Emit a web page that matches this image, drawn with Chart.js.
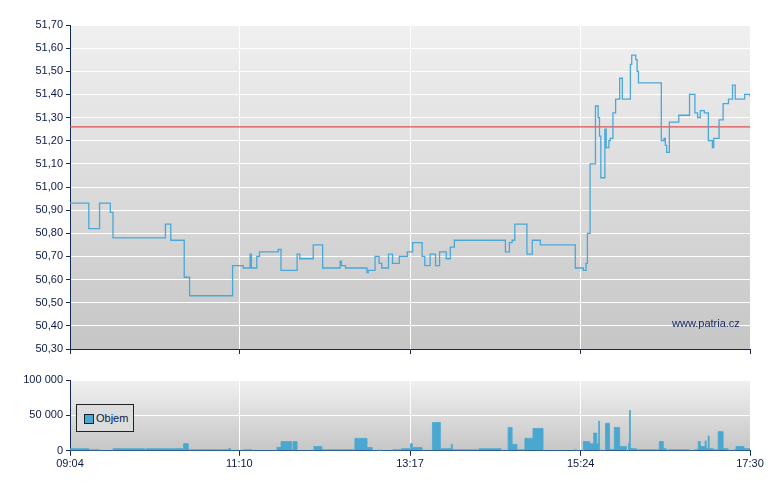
<!DOCTYPE html>
<html>
<head>
<meta charset="utf-8">
<script src="https://cdn.jsdelivr.net/npm/chart.js@4"></script>
<style>
body { margin: 0; background: #fff; font-family: "Liberation Sans", Arial, sans-serif; }
#wrap { position: relative; width: 780px; height: 490px; }
canvas { position: absolute; left: 0; }
#legend { position: absolute; left: 76px; top: 404px; width: 58px; height: 28px; border: 1px solid #222; background: #dcdcdc; font-size: 11px; color: #0a1a4a; box-sizing: border-box; }
#legend span.sw { position: absolute; left: 7px; top: 9px; width: 8px; height: 8px; background: #4aa8d0; border: 1px solid #123; }
#legend span.tx { position: absolute; left: 19px; top: 7px; }
#credit { position: absolute; left: 672px; top: 317px; font-size: 11px; color: #1a2a6a; }
</style>
</head>
<body>
<div id="wrap">
  <canvas id="cena" width="780" height="360" style="top:0"></canvas>
  <canvas id="objem" width="780" height="130" style="top:360px"></canvas>
  <div id="credit">www.patria.cz</div>
  <div id="legend"><span class="sw"></span><span class="tx">Objem</span></div>
</div>
<script>
// minuty od 09:04
var casCena = [0,14,22,30,32,71,75,85,89,121,129,134,135,139,141,155,157,169,171,181,188,201,202,205,221,222,227,230,232,237,240,245,251,255,262,264,268,272,275,280,283,286,324,327,329,331,340,344,350,376,382,384,385,387,391,393,394,395,398,399,401,402,404,406,409,411,417,418,421,422,423,440,442,443,444,446,453,461,465,467,469,472,475,478,479,483,486,490,493,495,502,506];
var cena = [50.93,50.82,50.93,50.89,50.78,50.84,50.77,50.61,50.53,50.66,50.65,50.71,50.65,50.70,50.72,50.73,50.64,50.71,50.69,50.75,50.65,50.68,50.66,50.65,50.63,50.64,50.70,50.67,50.65,50.71,50.67,50.70,50.72,50.76,50.70,50.66,50.71,50.66,50.72,50.69,50.74,50.77,50.72,50.76,50.77,50.84,50.71,50.77,50.75,50.65,50.64,50.67,50.80,51.10,51.35,51.30,51.22,51.04,51.25,51.17,51.20,51.21,51.32,51.38,51.47,51.38,51.53,51.57,51.55,51.50,51.45,51.20,51.21,51.18,51.15,51.28,51.31,51.40,51.32,51.30,51.33,51.32,51.20,51.17,51.21,51.29,51.36,51.38,51.44,51.38,51.40,51.39];
var predchoziZaviraci = 51.26;

var casObjem = [0,14,21.5,32,55.5,56.7,77,78,84.5,88,118,119.5,129,135.5,139,154,157,165,166,169,181.5,187.5,212,221,225,229.5,232.6,240,246.7,253.4,254.8,262,269.7,275.6,283.7,284.5,304.5,320.8,326,329,332.6,338.5,344.5,352,375.6,377,382,386.7,389.7,392,393.4,394,395.6,398.5,401.5,405,409,414,415.6,416.3,417,421.5,438.5,441.5,443.7,445,460.8,464.5,467.5,469,472.6,473.4,474.9,475.6,478.6,482.3,486,489.7,494,495.6,501.5,506];
var objem = [3000,1500,0,3000,1500,3000,3000,3000,10000,1500,3000,0,1500,0,0,5000,13000,1500,13000,0,6000,1500,17500,4500,0,1000,0,1500,3000,10000,4500,0,40000,3000,9000,1500,3000,0,33000,9000,1500,17500,31500,0,1500,0,13000,10000,25000,10000,42000,1000,0,39000,2000,33000,6000,0,10000,57000,3000,1500,13000,3000,0,1500,0,1500,13000,6000,14000,3000,21000,3000,1500,27000,3000,0,1500,6000,3000,3000];

var tickMinuty = [0,126,253,380,506];
var tickPopisky = ['09:04','11:10','13:17','15:24','17:30'];

var osaBarva = '#14285a';
var textBarva = '#0a1a4a';
var pismo = { family: 'Liberation Sans, Arial, sans-serif', size: 11 };

// pozadi plochy grafu s prechodem
var pozadi = {
  id: 'pozadi',
  beforeDraw: function(chart) {
    var a = chart.chartArea, c = chart.ctx;
    var g = c.createLinearGradient(0, a.top, 0, a.bottom);
    g.addColorStop(0, '#f0f0f0');
    g.addColorStop(1, '#c6c6c6');
    c.save();
    c.fillStyle = g;
    c.fillRect(a.left, a.top, a.width, a.height);
    c.restore();
  }
};

function osaX(showLabels) {
  return {
    type: 'linear', min: 0, max: 506,
    afterBuildTicks: function(ax) { ax.ticks = tickMinuty.map(function(v) { return { value: v }; }); },
    grid: { color: '#ffffff', lineWidth: 1, drawTicks: true, tickLength: 5, tickColor: osaBarva },
    border: { color: osaBarva, width: 1 },
    ticks: {
      display: showLabels, color: textBarva, font: pismo, maxRotation: 0, autoSkip: false, padding: 2,
      callback: function(v) { var i = tickMinuty.indexOf(v); return i >= 0 ? tickPopisky[i] : ''; }
    }
  };
}

function fitY(ax) { ax.width = 70; }

new Chart(document.getElementById('cena'), {
  type: 'line',
  data: {
    datasets: [{
      data: casCena.map(function(t, i) { return { x: t, y: cena[i] }; }),
      borderColor: '#4aa8d8', borderWidth: 1.3, pointRadius: 0, stepped: 'before', fill: false
    }, {
      data: [{ x: 0, y: predchoziZaviraci }, { x: 506, y: predchoziZaviraci }],
      borderColor: '#e05050', borderWidth: 1.3, pointRadius: 0, fill: false
    }]
  },
  options: {
    responsive: false, animation: false,
    layout: { padding: { top: 25, right: 30, bottom: 6, left: 0 } },
    plugins: { legend: { display: false }, tooltip: { enabled: false } },
    scales: {
      x: osaX(false),
      y: {
        min: 50.30, max: 51.70, afterFit: fitY,
        grid: { color: '#ffffff', drawTicks: true, tickLength: 4, tickColor: osaBarva },
        border: { color: osaBarva },
        ticks: { stepSize: 0.1, color: textBarva, font: pismo, padding: 3,
          callback: function(v) { return v.toFixed(2).replace('.', ','); } }
      }
    }
  },
  plugins: [pozadi]
});

new Chart(document.getElementById('objem'), {
  type: 'line',
  data: {
    datasets: [{
      data: casObjem.map(function(t, i) { return { x: t, y: objem[i] }; }),
      borderColor: '#4aa8d0', borderWidth: 0.8, backgroundColor: '#4aa8d0',
      pointRadius: 0, stepped: 'before', fill: 'origin'
    }]
  },
  options: {
    responsive: false, animation: false,
    layout: { padding: { top: 20, right: 30, bottom: 17, left: 0 } },
    plugins: { legend: { display: false }, tooltip: { enabled: false } },
    scales: {
      x: osaX(true),
      y: {
        min: 0, max: 100000, afterFit: fitY,
        grid: { color: '#ffffff', drawTicks: true, tickLength: 4, tickColor: osaBarva },
        border: { color: osaBarva },
        ticks: { stepSize: 50000, color: textBarva, font: pismo, padding: 3,
          callback: function(v) { return v === 0 ? '0' : String(v).replace(/\B(?=(\d{3})+(?!\d))/g, ' '); } }
      }
    }
  },
  plugins: [pozadi]
});
</script>
</body>
</html>
